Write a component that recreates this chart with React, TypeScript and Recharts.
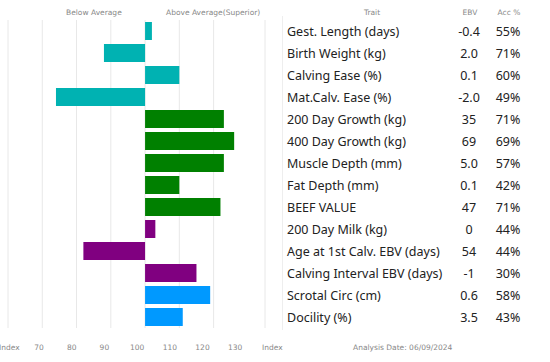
import React from 'react';
import { BarChart, Bar, XAxis, YAxis, CartesianGrid, Cell } from 'recharts';

const traits = [
  'Gest. Length (days)',
  'Birth Weight (kg)',
  'Calving Ease (%)',
  'Mat.Calv. Ease (%)',
  '200 Day Growth (kg)',
  '400 Day Growth (kg)',
  'Muscle Depth (mm)',
  'Fat Depth (mm)',
  'BEEF VALUE',
  '200 Day Milk (kg)',
  'Age at 1st Calv. EBV (days)',
  'Calving Interval EBV (days)',
  'Scrotal Circ (cm)',
  'Docility (%)',
];
const indexValues = [102, 88, 110, 74, 123, 126, 123, 110, 122, 103, 82, 115, 119, 111];
const ebvValues = ['-0.4', '2.0', '0.1', '-2.0', '35', '69', '5.0', '0.1', '47', '0', '54', '-1', '0.6', '3.5'];
const accValues = ['55%', '71%', '60%', '49%', '71%', '69%', '57%', '42%', '71%', '44%', '44%', '30%', '58%', '43%'];
const groups = ['calving', 'calving', 'calving', 'calving', 'growth', 'growth', 'growth', 'growth', 'growth', 'fertility', 'fertility', 'fertility', 'other', 'other'];
const groupColors: Record<string, string> = {
  calving: '#00B2B2',
  growth: '#008000',
  fertility: '#800080',
  other: '#0099FF',
};
const gridTicks = [60, 65, 70, 75, 80, 85, 90, 95, 100, 105, 110, 115, 120, 125, 130, 135];
const scaleLabels = ['70', '80', '90', '100', '110', '120', '130'];

const BASE = 100;

const data = traits.map((t, i) => ({
  trait: t,
  range: [BASE, indexValues[i]].sort((a, b) => a - b),
  group: groups[i],
}));

const small: React.CSSProperties = {
  position: 'absolute',
  fontFamily: '"DejaVu Sans", Verdana, sans-serif',
  fontSize: 7.5,
  color: '#888',
  whiteSpace: 'nowrap',
  lineHeight: '10px',
};

export default function App() {
  return (
    <div style={{ position: 'absolute', left: 0, top: 0, width: 550, height: 362, background: '#fff', overflow: 'hidden' }}>
      {/* header */}
      <div style={{ ...small, left: 66, top: 8 }}>Below Average</div>
      <div style={{ ...small, left: 166, top: 8 }}>Above Average(Superior)</div>
      <div style={{ ...small, left: 372, top: 8, transform: 'translateX(-50%)' }}>Trait</div>
      <div style={{ ...small, left: 470, top: 8, transform: 'translateX(-50%)' }}>EBV</div>
      <div style={{ ...small, left: 509, top: 8, transform: 'translateX(-50%)' }}>Acc %</div>

      <div style={{ position: 'absolute', left: 0, top: 0 }}>
        <BarChart
          width={266}
          height={330}
          data={data}
          layout="vertical"
          margin={{ top: 20, right: 1, bottom: 2, left: 8 }}
          barCategoryGap={2}
        >
          <CartesianGrid vertical horizontal={false} stroke="#e8e8e8" />
          <XAxis type="number" domain={[60, 135]} ticks={gridTicks} hide />
          <YAxis type="category" dataKey="trait" hide />
          <Bar dataKey="range" isAnimationActive={false}>
            {data.map((d, i) => (
              <Cell key={`cell-${i}`} fill={groupColors[d.group]} />
            ))}
          </Bar>
        </BarChart>
      </div>

      {/* trait table */}
      <div style={{ position: 'absolute', left: 282, top: 16, width: 1, height: 314, background: '#eee' }} />
      {traits.map((t, i) => (
        <React.Fragment key={t}>
          <div
            style={{
              position: 'absolute',
              left: 287,
              top: 21 + i * 22,
              height: 22,
              lineHeight: '22px',
              fontFamily: '"Noto Sans", sans-serif',
              fontSize: 12.5,
              color: '#222',
              whiteSpace: 'nowrap',
            }}
          >
            {t}
          </div>
          <div
            style={{
              position: 'absolute',
              left: 469,
              top: 21 + i * 22,
              lineHeight: '22px',
              transform: 'translateX(-50%)',
              fontFamily: '"Noto Sans", sans-serif',
              fontSize: 12.5,
              color: '#222',
            }}
          >
            {ebvValues[i]}
          </div>
          <div
            style={{
              position: 'absolute',
              left: 508,
              top: 21 + i * 22,
              lineHeight: '22px',
              transform: 'translateX(-50%)',
              fontFamily: '"Noto Sans", sans-serif',
              fontSize: 12.5,
              color: '#222',
            }}
          >
            {accValues[i]}
          </div>
        </React.Fragment>
      ))}

      {/* bottom scale row */}
      <div style={{ ...small, left: -1, top: 343 }}>Index</div>
      {scaleLabels.map((s, i) => (
        <div key={s} style={{ ...small, left: 39 + i * 32.7, top: 343, transform: 'translateX(-50%)' }}>
          {s}
        </div>
      ))}
      <div style={{ ...small, left: 262, top: 343 }}>Index</div>
      <div style={{ ...small, left: 353, top: 343 }}>Analysis Date: 06/09/2024</div>
    </div>
  );
}
